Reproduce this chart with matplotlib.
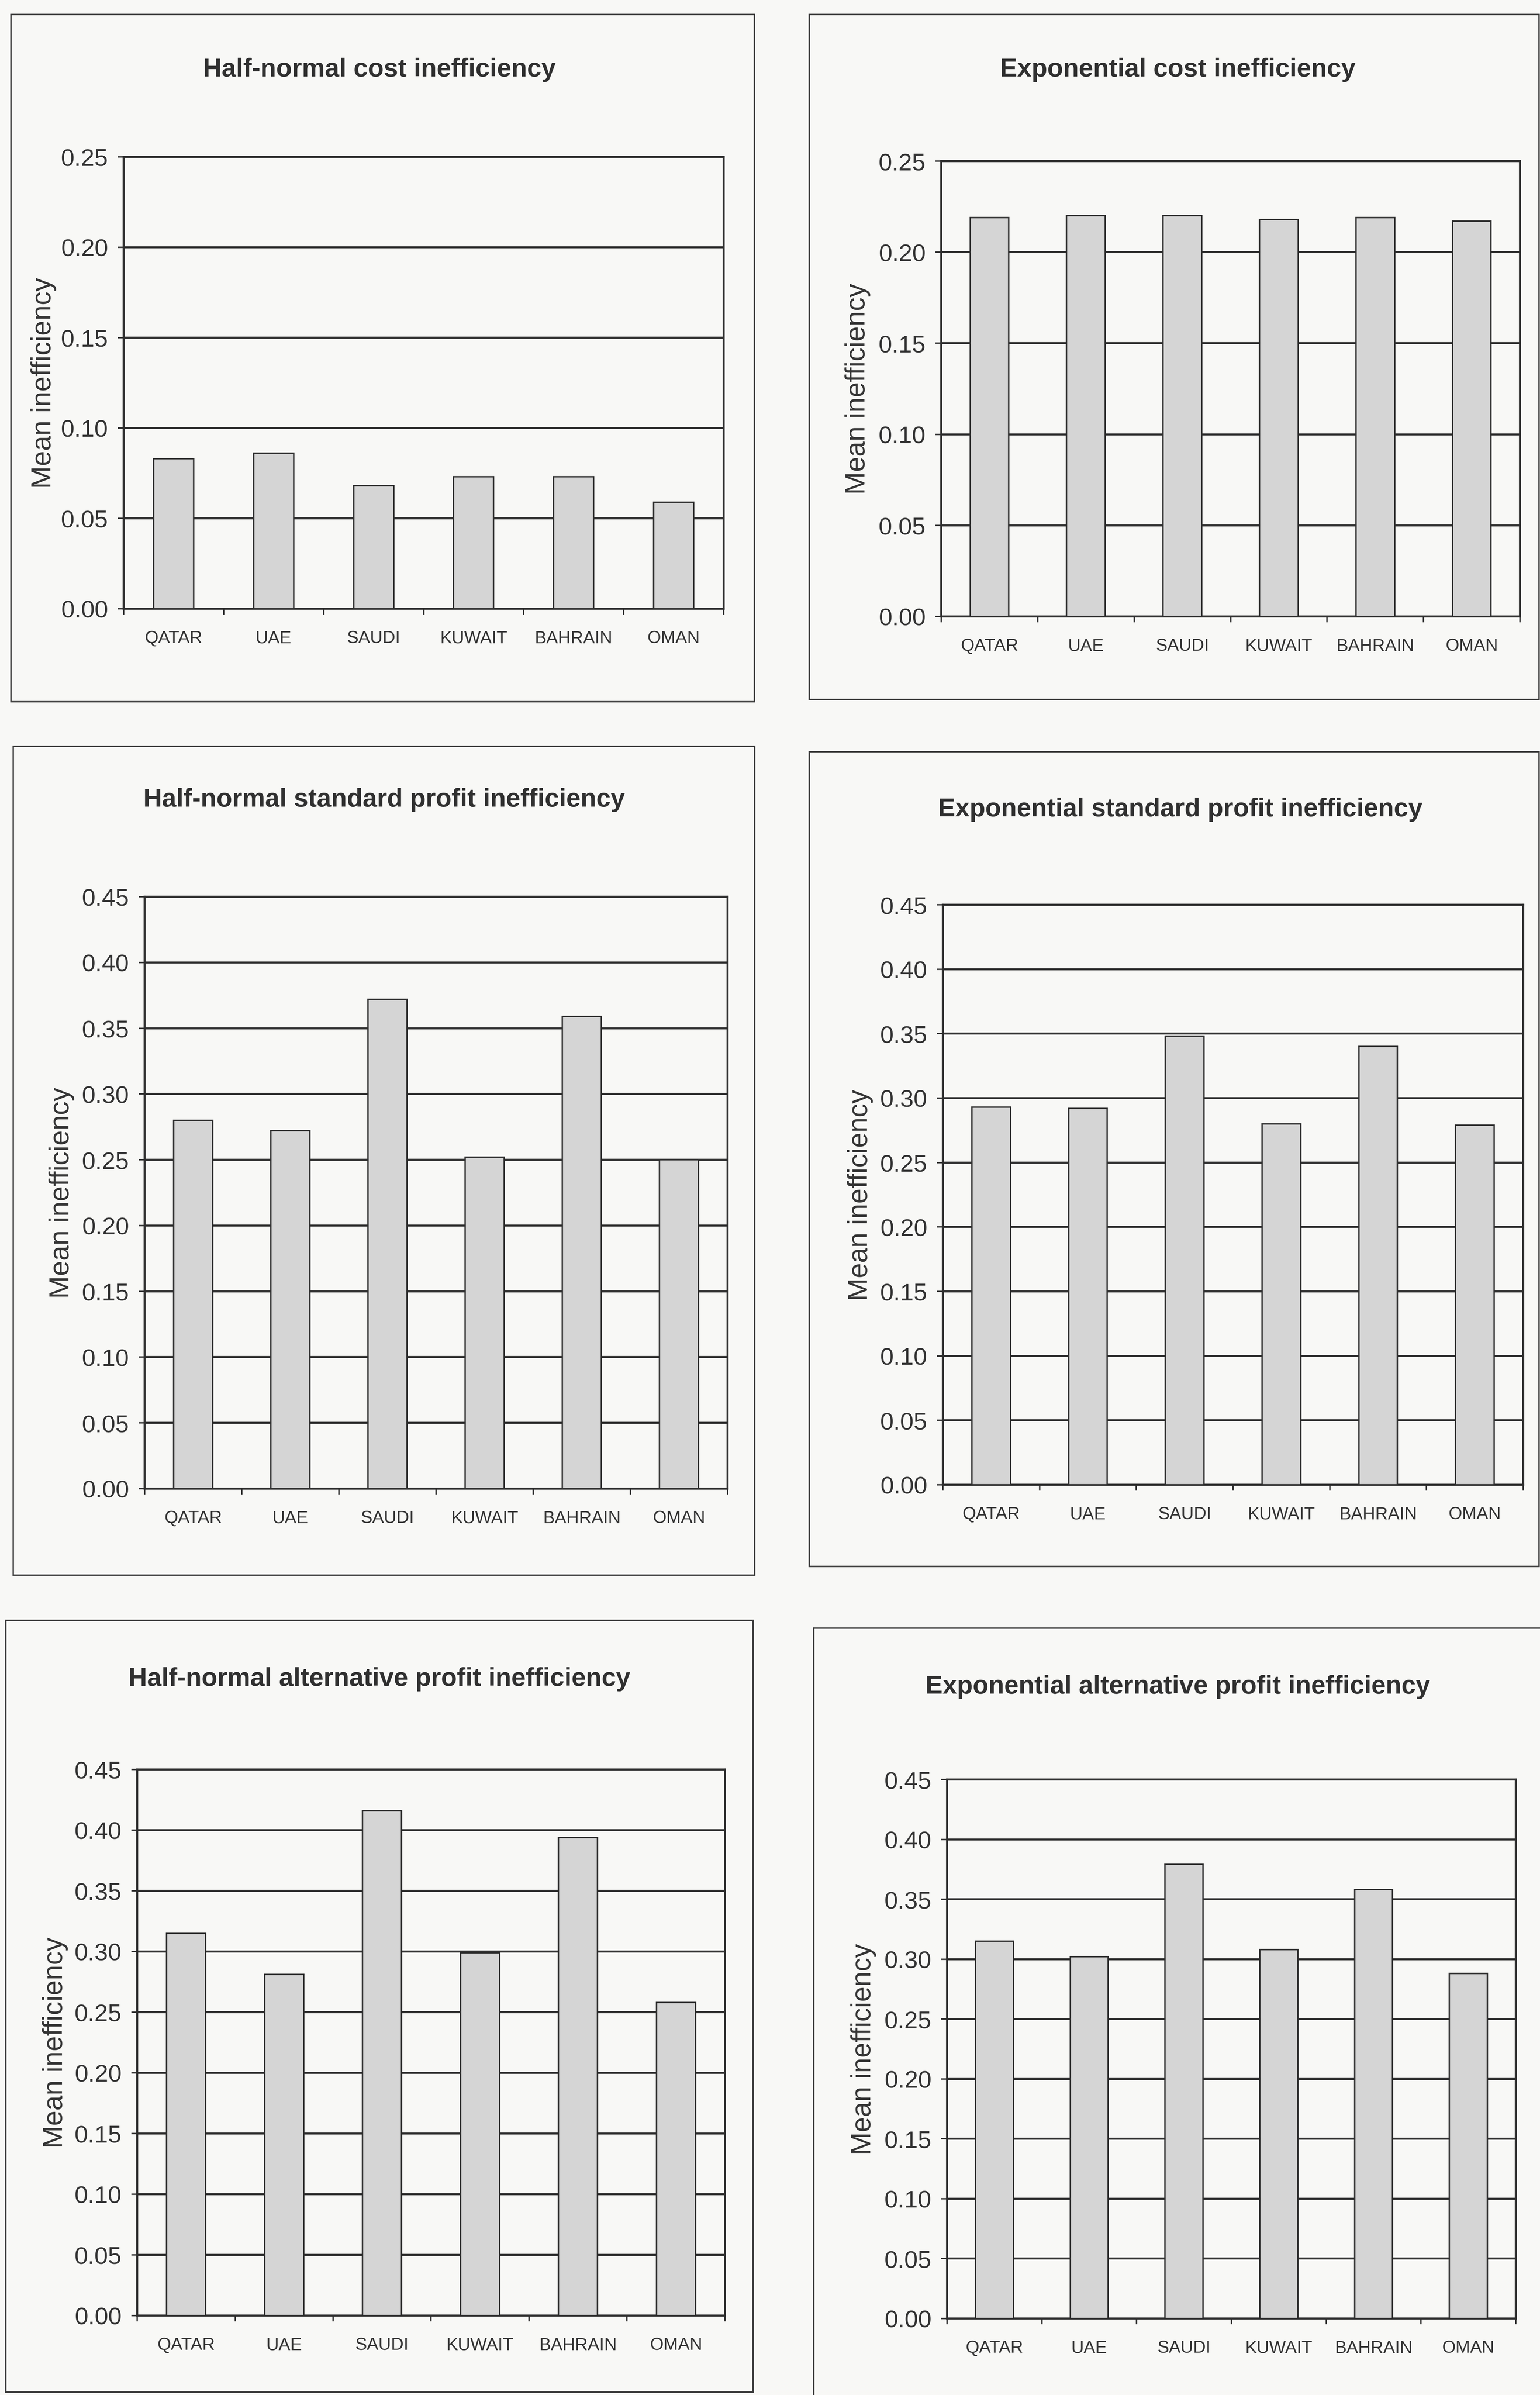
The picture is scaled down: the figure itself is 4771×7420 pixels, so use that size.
import matplotlib
matplotlib.use("Agg")
import matplotlib.pyplot as plt
from matplotlib.patches import Rectangle
from matplotlib.ticker import FormatStrFormatter, FixedLocator

countries = ["QATAR", "UAE", "SAUDI", "KUWAIT", "BAHRAIN", "OMAN"]

hn_cost = [0.083, 0.086, 0.068, 0.073, 0.073, 0.059]
exp_cost = [0.219, 0.220, 0.220, 0.218, 0.219, 0.217]
hn_std = [0.280, 0.272, 0.372, 0.252, 0.359, 0.250]
exp_std = [0.293, 0.292, 0.348, 0.280, 0.340, 0.279]
hn_alt = [0.315, 0.281, 0.416, 0.299, 0.394, 0.258]
exp_alt = [0.315, 0.302, 0.379, 0.308, 0.358, 0.288]

titles = [
    "Half-normal cost inefficiency",
    "Exponential cost inefficiency",
    "Half-normal standard profit inefficiency",
    "Exponential standard profit inefficiency",
    "Half-normal alternative profit inefficiency",
    "Exponential alternative profit inefficiency",
]
series = [hn_cost, exp_cost, hn_std, exp_std, hn_alt, exp_alt]
ymax = [0.25, 0.25, 0.45, 0.45, 0.45, 0.45]

W, H = 4771, 7421
DPI = 100
BG = "#f8f8f6"
INK = "#2e2e2e"
BAR = "#d5d5d5"
FONT = ["Liberation Sans", "DejaVu Sans"]

# pixel boxes (left, top, right, bottom): outer frame, plot area, title centre, ylabel x
frames = [(34, 46, 2337, 2175), (2507, 46, 4768, 2168),
          (41, 2313, 2338, 4881), (2507, 2330, 4768, 4854),
          (18, 5021, 2333, 7412), (2521, 5045, 4780, 7440)]
plots = [(383, 487, 2242, 1887), (2916, 500, 4709, 1911),
         (448, 2779, 2254, 4613), (2921, 2804, 4719, 4601),
         (425, 5483, 2246, 7175), (2934, 5514, 4696, 7184)]
title_pos = [(1175, 217), (3649, 217), (1190, 2479),
             (3656, 2508), (1175, 5202), (3649, 5226)]
ylab_x = [135, 2657, 191, 2665, 171, 2675]


def fx(px):
    return px / W


def fy(py):
    return 1 - py / H


fig = plt.figure(figsize=(W / DPI, H / DPI), dpi=DPI, facecolor=BG)

for i in range(6):
    l, t, r, b = frames[i]
    fig.add_artist(Rectangle((fx(l), fy(b)), fx(r) - fx(l), fy(t) - fy(b),
                             transform=fig.transFigure, fill=False,
                             edgecolor="#3a3a3a", lw=3.2))

    l, t, r, b = plots[i]
    ax = fig.add_axes([fx(l), fy(b), fx(r) - fx(l), fy(t) - fy(b)])
    ax.set_facecolor(BG)
    ax.bar(range(len(countries)), series[i], width=0.4, color=BAR,
           edgecolor=INK, linewidth=3.2, zorder=3)
    ax.set_xlim(-0.5, len(countries) - 0.5)
    ax.set_ylim(0, ymax[i])

    ticks = [k * 0.05 for k in range(int(round(ymax[i] / 0.05)) + 1)]
    ax.set_yticks(ticks)
    ax.yaxis.set_major_formatter(FormatStrFormatter("%.2f"))
    ax.grid(axis="y", color=INK, lw=4.5, zorder=1)
    ax.grid(axis="x", visible=False)
    ax.tick_params(axis="y", direction="out", length=13, width=3.2,
                   color=INK, pad=22, labelcolor="#333333", labelsize=54)
    for lab in ax.get_yticklabels():
        lab.set_family(FONT)

    ax.set_xticks(range(len(countries)))
    ax.set_xticklabels(countries, family=FONT, fontsize=39, color="#333333")
    ax.tick_params(axis="x", which="major", length=0, pad=48)
    ax.xaxis.set_minor_locator(FixedLocator([k - 0.5 for k in range(len(countries) + 1)]))
    ax.tick_params(axis="x", which="minor", direction="out", length=13,
                   width=3.2, color=INK)

    for sp in ax.spines.values():
        sp.set_color(INK)
        sp.set_linewidth(4.5)

    tx, ty = title_pos[i]
    fig.text(fx(tx), fy(ty), titles[i], ha="center", va="center",
             family=FONT, fontweight="bold", fontsize=57.5, color="#303030")
    fig.text(fx(ylab_x[i]), fy((t + b) / 2), "Mean inefficiency",
             rotation=90, ha="center", va="center", family=FONT,
             fontsize=61, color="#333333")

fig.savefig("out.png", dpi=DPI, facecolor=BG)
